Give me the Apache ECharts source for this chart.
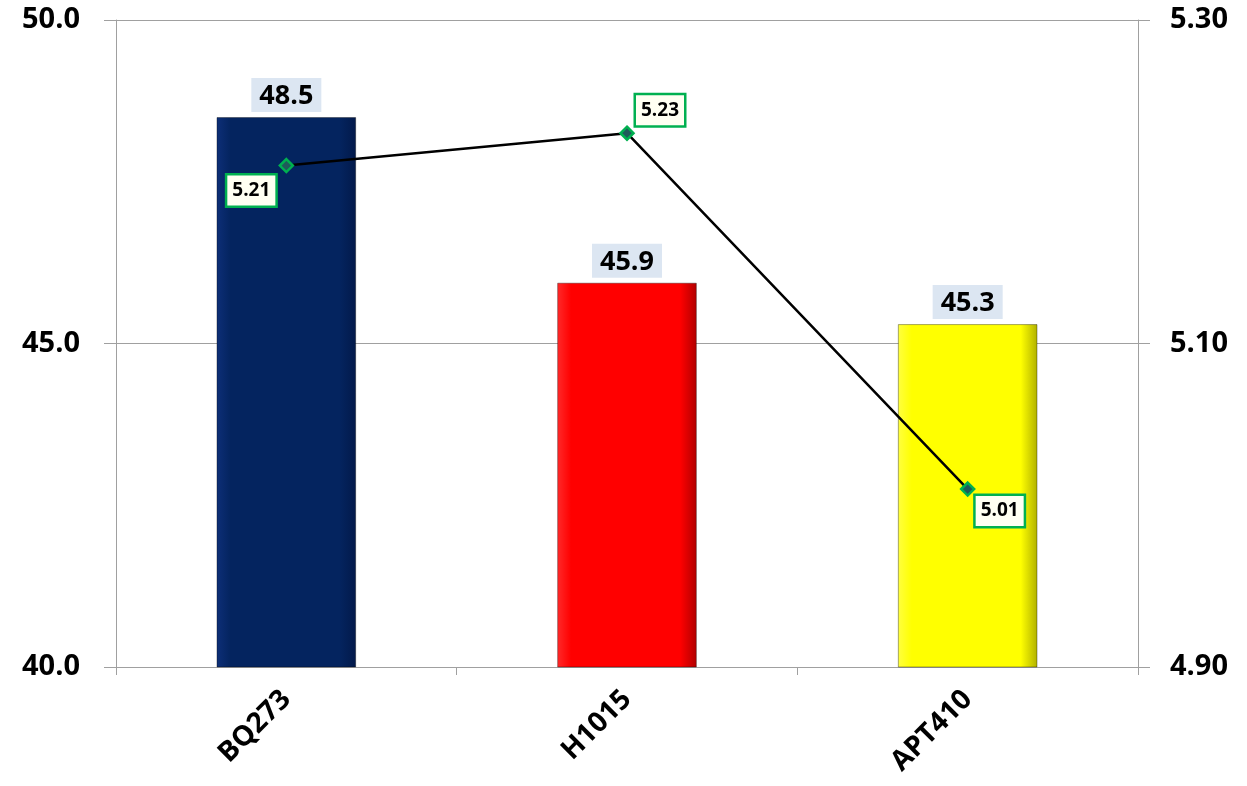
<!DOCTYPE html>
<html>
<head>
<meta charset="utf-8">
<script src="https://cdn.jsdelivr.net/npm/echarts@6/dist/echarts.min.js"></script>
<style>html,body{margin:0;padding:0;background:#fff;}#c{width:1247px;height:786px;}</style>
</head>
<body>
<div id="c"></div>
<script>
const categories = ['BQ273', 'H1015', 'APT410'];
const barValues = [48.5, 45.94, 45.3];
const lineValues = [5.21, 5.23, 5.01];
const leftTicks = {min: 40, max: 50, interval: 5};
const rightTicks = {min: 4.9, max: 5.3, interval: 0.2};
const barColors = [
  ['#0d2f78', '#04245f', '#02194a'],
  ['#ff2a2a', '#ff0000', '#b00000'],
  ['#ffff40', '#ffff00', '#b0b000']
];
const lineLabelOffsets = [[-35, 25], [33, -23], [32, 22]];

const FONT = '"Open Sans", "Liberation Sans", sans-serif';

function grad(c) {
  return {type: 'linear', x: 0, y: 0, x2: 1, y2: 0, colorStops: [
    {offset: 0, color: c[0]}, {offset: 0.1, color: c[1]},
    {offset: 0.88, color: c[1]}, {offset: 1, color: c[2]}
  ]};
}

const chart = echarts.init(document.getElementById('c'), null, {renderer: 'canvas'});
chart.setOption({
  animation: false,
  backgroundColor: '#ffffff',
  grid: {left: 116, right: 109, top: 20, bottom: 119, containLabel: false},
  xAxis: {
    type: 'category',
    data: categories,
    boundaryGap: true,
    axisLine: {show: true, lineStyle: {color: '#a0a0a0', width: 1}},
    axisTick: {show: true, alignWithLabel: false, length: 8, lineStyle: {color: '#a0a0a0'}},
    axisLabel: {rotate: 45, fontFamily: FONT, fontWeight: 'bold', fontSize: 28, color: '#000', margin: 28}
  },
  yAxis: [
    {
      type: 'value', min: leftTicks.min, max: leftTicks.max, interval: leftTicks.interval,
      axisLine: {show: true, lineStyle: {color: '#a0a0a0'}},
      axisTick: {show: true, length: 12, lineStyle: {color: '#a0a0a0'}},
      splitLine: {show: true, lineStyle: {color: '#a0a0a0', width: 1}},
      axisLabel: {fontFamily: FONT, fontWeight: 'bold', fontSize: 29, color: '#000', margin: 36,
        formatter: v => v.toFixed(1)}
    },
    {
      type: 'value', min: rightTicks.min, max: rightTicks.max, interval: rightTicks.interval,
      position: 'right',
      axisLine: {show: true, lineStyle: {color: '#a0a0a0'}},
      axisTick: {show: true, length: 12, lineStyle: {color: '#a0a0a0'}},
      splitLine: {show: false},
      axisLabel: {fontFamily: FONT, fontWeight: 'bold', fontSize: 29, color: '#000', margin: 32,
        formatter: v => v.toFixed(2)}
    }
  ],
  series: [
    {
      type: 'bar',
      yAxisIndex: 0,
      barWidth: '41%',
      data: barValues.map((v, i) => ({
        value: v,
        itemStyle: {color: grad(barColors[i]), borderColor: 'rgba(0,0,0,0.35)', borderWidth: 1}
      })),
      label: {
        show: true, position: 'top', distance: 5,
        fontFamily: FONT, fontWeight: 'bold', fontSize: 27, color: '#000',
        backgroundColor: '#dce6f2', padding: [5, 8, 2, 8],
        formatter: p => p.value.toFixed(1)
      },
      z: 2
    },
    {
      type: 'line',
      yAxisIndex: 1,
      symbol: 'diamond',
      symbolSize: 13,
      lineStyle: {color: '#000', width: 2.5},
      itemStyle: {color: '#1f5a5a', borderColor: '#00b050', borderWidth: 2.5},
      data: lineValues.map((v, i) => ({
        value: v,
        label: {offset: lineLabelOffsets[i]}
      })),
      label: {
        show: true, position: 'inside',
        fontFamily: FONT, fontWeight: 'bold', fontSize: 19, color: '#000',
        backgroundColor: '#fffff2', borderColor: '#00b050', borderWidth: 2.5,
        padding: [7, 5, 4, 5],
        formatter: p => p.value.toFixed(2)
      },
      z: 5
    }
  ]
});
</script>
</body>
</html>
